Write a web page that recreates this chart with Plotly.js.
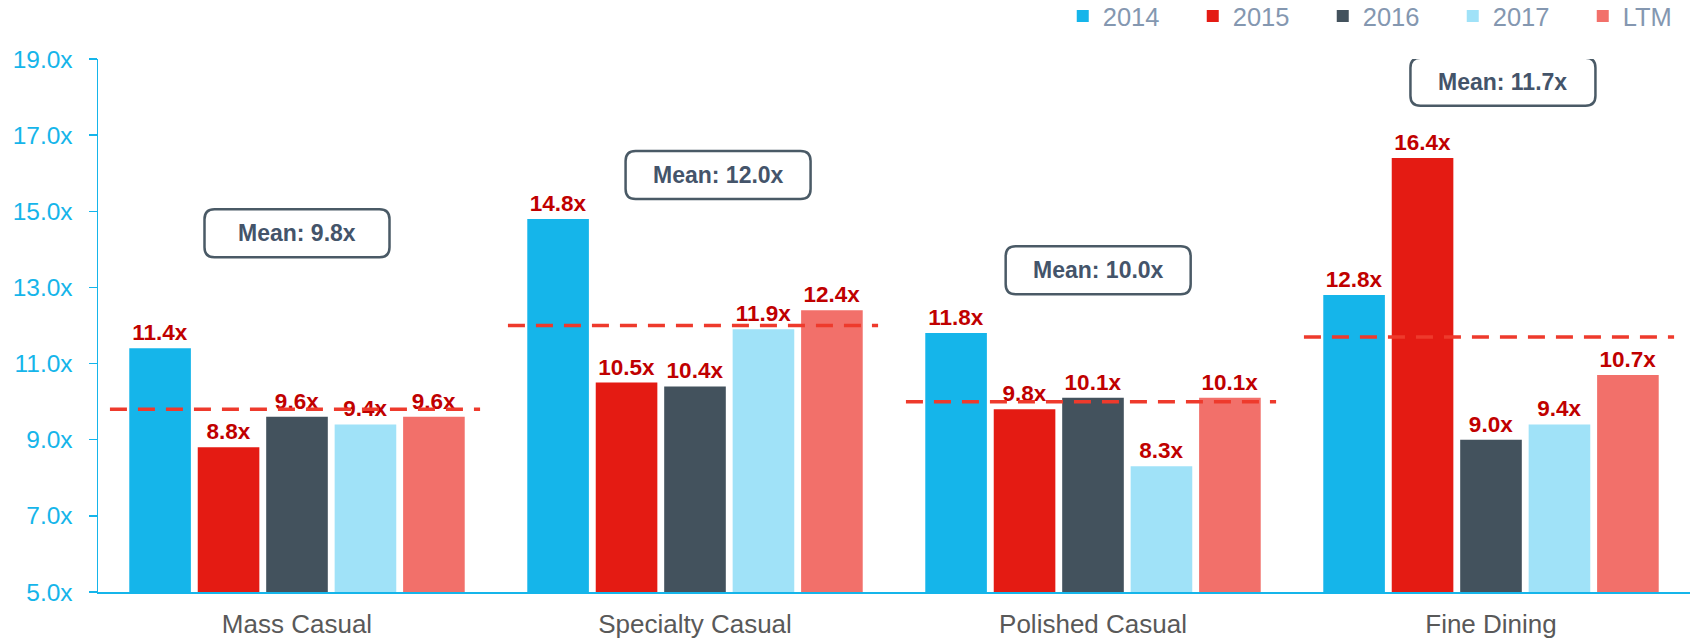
<!DOCTYPE html>
<html>
<head>
<meta charset="utf-8">
<script src="https://cdn.plot.ly/plotly-3.0.1.min.js"></script>
<style>html,body{margin:0;padding:0;background:#fff;}#chart{width:1690px;height:642px;}</style>
</head>
<body>
<div id="chart"></div>
<script>
// ---- data ----
const categories = ['Mass Casual', 'Specialty Casual', 'Polished Casual', 'Fine Dining'];
const seriesNames = ['2014', '2015', '2016', '2017', 'LTM'];
const v2014 = [11.4, 14.8, 11.8, 12.8];
const v2015 = [8.8, 10.5, 9.8, 16.4];
const v2016 = [9.6, 10.4, 10.1, 9.0];
const v2017 = [9.4, 11.9, 8.3, 9.4];
const vLTM  = [9.6, 12.4, 10.1, 10.7];
const means = [9.8, 12.0, 10.0, 11.7];
const yTicks = [5, 7, 9, 11, 13, 15, 17, 19];

// ---- styles / layout config ----
const colors = ['#15B5EA', '#E41B13', '#43525D', '#A0E2F8', '#F2706A'];
const FONT = 'Liberation Sans, Arial, Helvetica, sans-serif';
const boxOffsetX = [0, 0.058, 0.013, 0.03];      // box placement (category units)
const boxCenterY = [14.42, 15.95, 13.45, 18.4];  // box placement (axis units)

const allSeries = [v2014, v2015, v2016, v2017, vLTM];
const traces = allSeries.map((vals, i) => ({
  type: 'bar',
  name: seriesNames[i],
  x: categories,
  y: vals,
  marker: {color: colors[i], line: {width: 0}},
  text: vals.map(v => v.toFixed(1) + 'x'),
  textposition: 'outside',
  constraintext: 'none',
  textfont: {family: FONT, size: 22.5, color: '#C00000', weight: 'bold'},
  cliponaxis: false,
  hoverinfo: 'skip'
}));
traces[4].legendwidth = 45;

function rrect(w, h, r) {
  const x = w / 2, y = h / 2;
  return `M${-x + r},${-y} L${x - r},${-y} Q${x},${-y} ${x},${-y + r} L${x},${y - r} Q${x},${y} ${x - r},${y} ` +
         `L${-x + r},${y} Q${-x},${y} ${-x},${y - r} L${-x},${-y + r} Q${-x},${-y} ${-x + r},${-y} Z`;
}

const shapes = [];
const annotations = [];
means.forEach((m, i) => {
  shapes.push({
    type: 'line', xref: 'x', yref: 'y', x0: i - 0.47, x1: i + 0.46, y0: m, y1: m,
    line: {color: '#EE3A2C', width: 3.5, dash: '17px,11px'}, layer: 'above'
  });
  shapes.push({
    type: 'path', xref: 'x', yref: 'y', xsizemode: 'pixel', ysizemode: 'pixel',
    xanchor: i + boxOffsetX[i], yanchor: boxCenterY[i],
    path: rrect(185, 48, 10),
    line: {color: '#4A5A66', width: 2.5}, fillcolor: 'rgba(255,255,255,0)', layer: 'above'
  });
  annotations.push({
    xref: 'x', yref: 'y', x: i + boxOffsetX[i], y: boxCenterY[i],
    text: 'Mean: ' + m.toFixed(1) + 'x', showarrow: false,
    font: {family: FONT, size: 23, color: '#44546A', weight: 'bold'},
    xanchor: 'center', yanchor: 'middle'
  });
});

const layout = {
  width: 1690, height: 642,
  margin: {l: 98, r: 0, t: 59, b: 50, autoexpand: false},
  paper_bgcolor: '#fff', plot_bgcolor: '#fff',
  barmode: 'group', bargap: 0.14, bargroupgap: 0.1,
  font: {family: FONT},
  showlegend: true,
  legend: {
    orientation: 'h', xref: 'paper', yref: 'paper',
    x: 0.606, xanchor: 'left', y: 1.08, yanchor: 'middle',
    font: {family: FONT, size: 25.5, color: '#8497B0'},
    entrywidth: 85, bgcolor: 'rgba(0,0,0,0)', traceorder: 'normal'
  },
  xaxis: {
    type: 'category', showline: true, linecolor: '#15B5EA', linewidth: 1.5,
    showgrid: false, ticks: '', zeroline: false,
    tickfont: {family: FONT, size: 26, color: '#595959'},
    ticklabelstandoff: 8
  },
  yaxis: {
    range: [5, 19], tickvals: yTicks, ticktext: yTicks.map(v => v.toFixed(1) + 'x'),
    showline: true, linecolor: '#15B5EA', linewidth: 1.5,
    ticks: 'outside', ticklen: 8, tickcolor: '#15B5EA', tickwidth: 1.5,
    showgrid: false, zeroline: false,
    tickfont: {family: FONT, size: 24.5, color: '#15B5EA'},
    ticklabelstandoff: 11
  },
  shapes: shapes,
  annotations: annotations,
  hovermode: false
};

Plotly.newPlot('chart', traces, layout, {displayModeBar: false, staticPlot: true});
</script>
</body>
</html>
